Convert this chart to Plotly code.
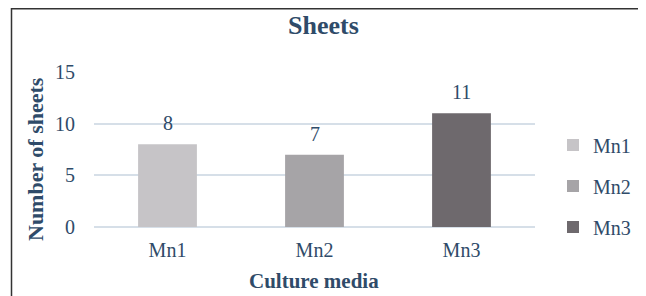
import plotly.graph_objects as go

categories = ["Mn1", "Mn2", "Mn3"]
values = [8, 7, 11]
colors = ["#C6C4C7", "#A6A4A7", "#6E696D"]
y_ticks = [0, 5, 10, 15]

TEXT = "#2F4B69"
FONT = "Liberation Serif"

# page body has an 8px default margin; figure is sized to fill the rest
OFF = 8
W, H = 646 - OFF, 296 - OFF
# plot area in page pixels: x 94..535, y 72..227
L, R, T, B = 94 - OFF, 646 - 535, 72 - OFF, 296 - 227
pw, ph = W - L - R, H - T - B


def px(xpage):
    return (xpage - OFF - L) / pw


def py(ypage):
    return (H - B - (ypage - OFF)) / ph


fig = go.Figure()
for cat, val, col in zip(categories, values, colors):
    fig.add_trace(go.Bar(
        x=[cat], y=[val], name=cat, marker=dict(color=col, line=dict(width=0)),
        width=0.4, legendgroup=cat, hoverinfo="skip",
    ))
    fig.add_annotation(x=cat, y=val, text=str(val), showarrow=False,
                       yanchor="middle", yshift=21,
                       font=dict(family=FONT, size=20, color=TEXT))

fig.update_layout(
    width=W, height=H,
    margin=dict(l=L, r=R, t=T, b=B, pad=0, autoexpand=False),
    paper_bgcolor="white", plot_bgcolor="white",
    barmode="overlay",
    font=dict(family=FONT, color=TEXT),
    showlegend=True,
    legend=dict(x=px(553), xanchor="left", y=py(186), yanchor="middle",
                font=dict(family=FONT, size=20, color=TEXT),
                tracegroupgap=12, bgcolor="rgba(0,0,0,0)"),
    xaxis=dict(showgrid=False, showline=False, zeroline=False, ticks="",
               tickfont=dict(family=FONT, size=20, color=TEXT),
               ticklabelstandoff=9, automargin=False),
    yaxis=dict(range=[0, 15], tickvals=y_ticks, showgrid=True,
               gridcolor="#D6DFE8", gridwidth=2, zeroline=True,
               zerolinecolor="#D6DFE8", zerolinewidth=2, showline=False, ticks="",
               tickfont=dict(family=FONT, size=20, color=TEXT),
               ticklabelstandoff=18, automargin=False),
    shapes=[dict(type="rect", xref="paper", yref="paper",
                 x0=px(11.5), x1=px(644.5), y0=py(310), y1=py(8.8),
                 line=dict(color="#333333", width=1.5), fillcolor="rgba(0,0,0,0)",
                 layer="below")],
    annotations=list(fig.layout.annotations) + [
        dict(text="<b>Sheets</b>", xref="paper", yref="paper", x=px(323), y=py(26),
             xanchor="center", yanchor="middle", showarrow=False,
             font=dict(family=FONT, size=26, color=TEXT)),
        dict(text="<b>Culture media</b>", xref="paper", yref="paper", x=px(314), y=py(281),
             xanchor="center", yanchor="middle", showarrow=False,
             font=dict(family=FONT, size=21, color=TEXT)),
        dict(text="<b>Number of sheets</b>", xref="paper", yref="paper", x=px(35), y=py(159),
             xanchor="center", yanchor="middle", showarrow=False, textangle=-90,
             font=dict(family=FONT, size=22, color=TEXT)),
    ],
)

fig.write_html("out.html")
